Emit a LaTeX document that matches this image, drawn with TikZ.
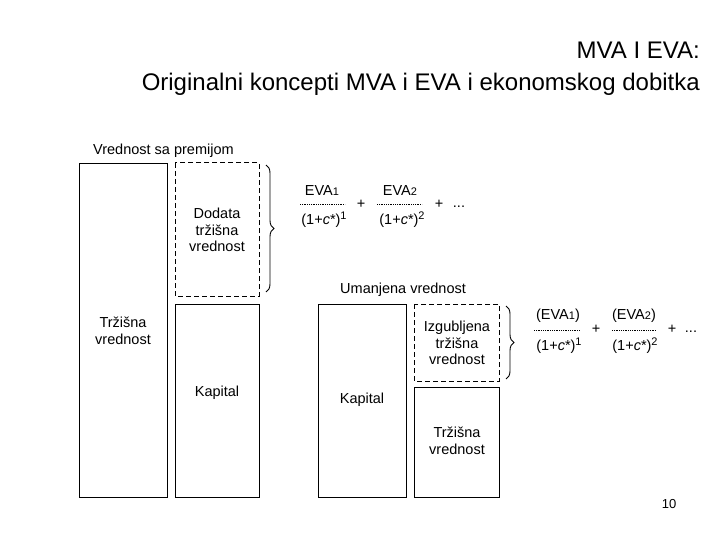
\documentclass[tikz,border=0pt]{standalone}
\usepackage{fontspec}
\setmainfont{Liberation Sans}
\usetikzlibrary{decorations.pathreplacing}
\newcommand{\mysupx}[1]{\raisebox{5pt}{\fontsize{11}{11}\selectfont #1}}
\newcommand{\mysubx}[1]{{\fontsize{11}{11}\selectfont #1}}
\begin{document}
\begin{tikzpicture}[x=1pt,y=-1pt,
  box/.style={draw,line width=0.9pt},
  dbox/.style={draw,line width=1pt,dash pattern=on 5pt off 3pt},
  lbl/.style={font=\fontsize{14.5}{16.5}\selectfont,align=center,inner sep=0pt},
  frac/.style={font=\fontsize{14.5}{16}\selectfont,inner sep=0pt},
  br/.style={draw,line width=0.9pt,decorate,decoration={brace,amplitude=8pt}}]
\useasboundingbox (0,0) rectangle (720,540);
\node[anchor=east,font=\fontsize{24}{28}\selectfont,inner sep=0pt] (t1) at (700,50) {MVA I EVA:};
\node[anchor=east,font=\fontsize{24}{28}\selectfont,inner sep=0pt] (t2) at (700,84) {Originalni koncepti MVA i EVA i ekonomskog dobitka};
% left group
\node[lbl,anchor=west] (vp) at (93,151) {Vrednost sa premijom};
\draw[box] (79,163) rectangle (167,497);
\node[lbl] (tv1) at (123,331) {Tržišna\\vrednost};
\draw[dbox] (175,163) rectangle (259,296);
\node[lbl] (dtv) at (217,230) {Dodata\\tržišna\\vrednost};
\draw[box] (175,304) rectangle (259,497);
\node[lbl] (k1) at (217,393) {Kapital};
\draw[br] (266,165) -- (266,292);
% formula 1
\node[frac] (n1) at (322,191) {EVA\mysubx{1}};
\draw[densely dotted,line width=0.8pt] (300,204) -- (345,204);
\node[frac] (d1) at (324,220) {(1+\textit{c}*)\mysupx{1}};
\node[frac] (p1) at (361,204) {+};
\node[frac] (n2) at (400,191) {EVA\mysubx{2}};
\draw[densely dotted,line width=0.8pt] (377,204) -- (422,204);
\node[frac] (d2) at (402,220) {(1+\textit{c}*)\mysupx{2}};
\node[frac] (p2) at (439,204) {+};
\node[frac] (e1) at (459,207) {...};
% middle group
\node[lbl,anchor=west] (uv) at (340,290) {Umanjena vrednost};
\draw[box] (318,304) rectangle (406,497);
\node[lbl] (k2) at (362,400) {Kapital};
\draw[dbox] (414,304) rectangle (499,381);
\node[lbl] (itv) at (457,343) {Izgubljena\\tržišna\\vrednost};
\draw[box] (414,387) rectangle (499,497);
\node[lbl] (tv2) at (457,441) {Tržišna\\vrednost};
\draw[br] (506,306) -- (506,379);
% formula 2
\node[frac] (n3) at (558,316) {(EVA\mysubx{1})};
\draw[densely dotted,line width=0.8pt] (534,330) -- (580,330);
\node[frac] (d3) at (559,346) {(1+\textit{c}*)\mysupx{1}};
\node[frac] (p3) at (596,329) {+};
\node[frac] (n4) at (634,316) {(EVA\mysubx{2})};
\draw[densely dotted,line width=0.8pt] (612,330) -- (656,330);
\node[frac] (d4) at (635,346) {(1+\textit{c}*)\mysupx{2}};
\node[frac] (p4) at (672,329) {+};
\node[frac] (e2) at (691,332) {...};
\node[font=\fontsize{13}{15}\selectfont,inner sep=0pt] (pg) at (669,504) {10};
\end{tikzpicture}
\end{document}
